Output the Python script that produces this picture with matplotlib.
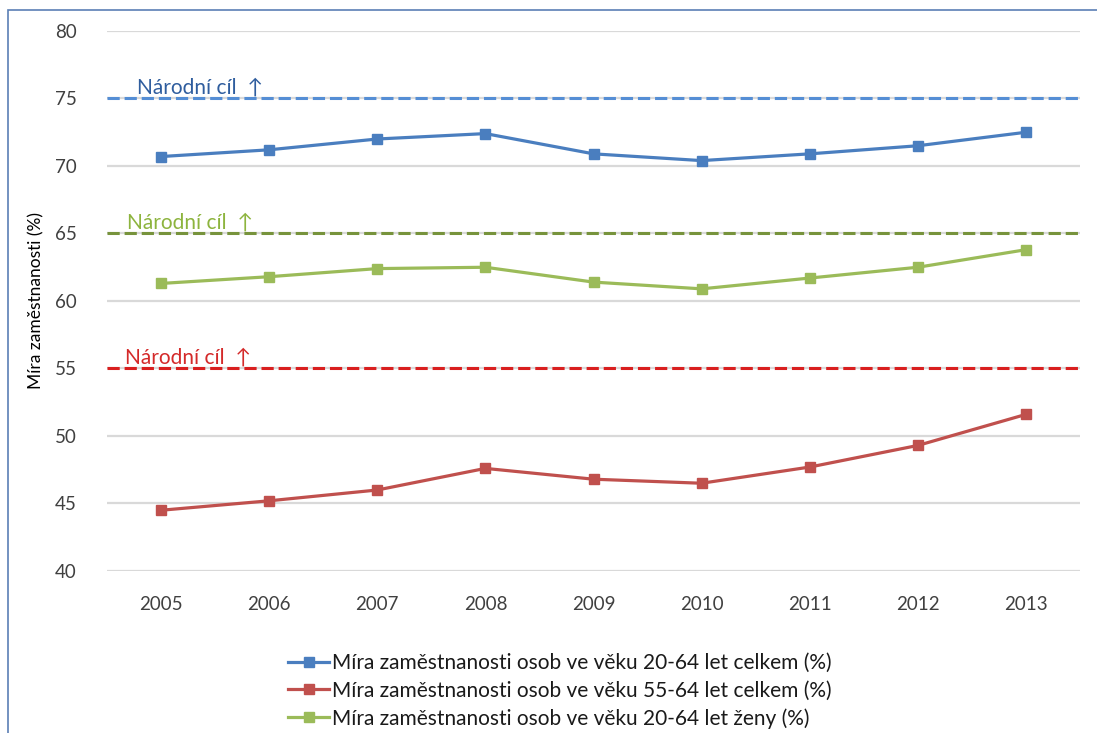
import matplotlib
matplotlib.use("Agg")
import matplotlib.pyplot as plt
from matplotlib.patches import Rectangle

plt.rcParams['font.family'] = ['Lato', 'DejaVu Sans']

# Data
roky = ['2005', '2006', '2007', '2008', '2009', '2010', '2011', '2012', '2013']
celkem_20_64 = [70.7, 71.2, 72.0, 72.4, 70.9, 70.4, 70.9, 71.5, 72.5]
celkem_55_64 = [44.5, 45.2, 46.0, 47.6, 46.8, 46.5, 47.7, 49.3, 51.6]
zeny_20_64 = [61.3, 61.8, 62.4, 62.5, 61.4, 60.9, 61.7, 62.5, 63.8]
narodni_cile = [75, 65, 55]
popisky = ['Míra zaměstnanosti osob ve věku 20-64 let celkem (%)',
           'Míra zaměstnanosti osob ve věku 55-64 let celkem (%)',
           'Míra zaměstnanosti osob ve věku 20-64 let ženy (%)']

fig = plt.figure(figsize=(10.97, 7.33), dpi=100)
ax = fig.add_axes([107 / 1097, 1 - 571 / 733, 973 / 1097, 540 / 733])

# ramecek kolem grafu
fig.add_artist(Rectangle((8 / 1097, -0.2), 1.5, 1.2 - 10 / 733, transform=fig.transFigure,
                         fill=False, edgecolor='#5b7fb5', linewidth=1.2))

x = list(range(len(roky)))
ax.plot(x, celkem_20_64, color='#4a7ebf', lw=2.3, marker='s', ms=7.5, label=popisky[0])
ax.plot(x, celkem_55_64, color='#c0504d', lw=2.3, marker='s', ms=7.5, label=popisky[1])
ax.plot(x, zeny_20_64, color='#9bbb59', lw=2.3, marker='s', ms=7.5, label=popisky[2])

# narodni cile
barvy_car = ['#558ed5', '#77933c', '#d91f1f']
barvy_textu = ['#2f5d9e', '#8db43e', '#d42a2a']
text_x = [137, 127, 125]
for cil, bc, bt, tx in zip(narodni_cile, barvy_car, barvy_textu, text_x):
    ax.axhline(cil, color=bc, lw=2.2, dashes=(4, 1.6), zorder=1)
    ax.text((tx - 107) / 973 * 9 - 0.5, cil + 0.1, 'Národní cíl  ↑', color=bt,
            fontsize=15, ha='left', va='bottom')

ax.set_xlim(-0.5, len(roky) - 0.5)
ax.set_ylim(40, 80)
ax.set_yticks(range(40, 81, 5))
ax.set_xticks(x)
ax.set_xticklabels(roky)
ax.yaxis.grid(True, color='#d9d9d9', lw=1.6)
ax.set_axisbelow(True)
for s in ax.spines.values():
    s.set_visible(False)
ax.tick_params(axis='both', length=0, labelsize=13.5, colors='#404040')
ax.tick_params(axis='x', pad=18)
ax.tick_params(axis='y', pad=22)
ax.set_ylabel('Míra zaměstnanosti (%)', fontsize=12.5, color='black', labelpad=7)

fig.legend(loc='upper left', bbox_to_anchor=(280 / 1097, 1 - 645 / 733), frameon=False,
           fontsize=15, handlelength=1.95, handletextpad=0.15, labelspacing=0.35,
           borderaxespad=0, labelcolor='#1a1a1a')

fig.savefig('out.png', dpi=100)
